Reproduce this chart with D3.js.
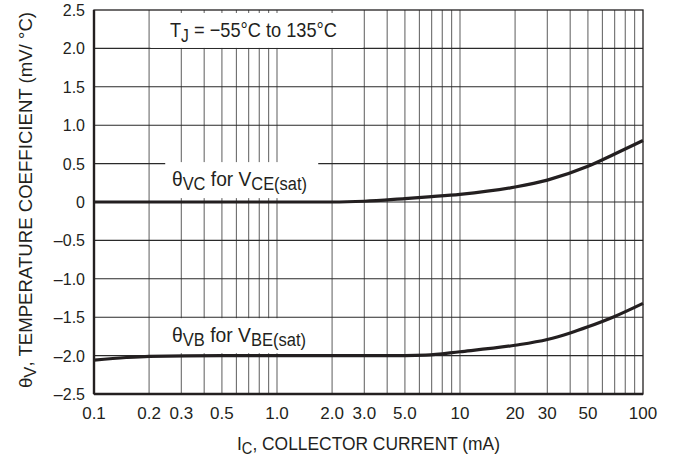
<!DOCTYPE html>
<html>
<head>
<meta charset="utf-8">
<script src="https://d3js.org/d3.v7.min.js"></script>
<style>
  body { margin: 0; background: #fff; }
  text { font-family: "Liberation Sans", Arial, sans-serif; fill: #231f20; }
</style>
</head>
<body>
<svg id="chart" width="673" height="463"></svg>
<script>
// collector current (mA) and temperature coefficients (mV/°C)
const icVC = [0.1, 0.2, 0.5, 1, 2, 3, 5, 7, 10, 20, 30, 50, 70, 100];
const thetaVC = [0.0, 0.0, 0.0, 0.0, 0.0, 0.01, 0.045, 0.07, 0.1, 0.195, 0.285, 0.465, 0.625, 0.8];
const icVB = [0.1, 0.15, 0.2, 0.5, 1, 2, 5, 6.5, 10, 20, 30, 40, 50, 70, 100];
const thetaVB = [-2.06, -2.025, -2.01, -2.0, -2.0, -2.0, -2.0, -1.995, -1.95, -1.865, -1.79, -1.705, -1.625, -1.49, -1.32];

const xTickValues = [0.1, 0.2, 0.3, 0.5, 1, 2, 3, 5, 10, 20, 30, 50, 100];
const xTickLabels = ["0.1", "0.2", "0.3", "0.5", "1.0", "2.0", "3.0", "5.0", "10", "20", "30", "50", "100"];
const yTickValues = [-2.5, -2, -1.5, -1, -0.5, 0, 0.5, 1, 1.5, 2, 2.5];
const yTickLabels = ["\u20132.5", "\u20132.0", "\u20131.5", "\u20131.0", "\u20130.5", "0", "0.5", "1.0", "1.5", "2.0", "2.5"];

const svg = d3.select("#chart");
const margin = {top: 10, right: 30, bottom: 69, left: 94};
const W = +svg.attr("width"), H = +svg.attr("height");
const w = W - margin.left - margin.right, h = H - margin.top - margin.bottom;
const g = svg.append("g").attr("transform", `translate(${margin.left},${margin.top})`);

const x = d3.scaleLog().domain([0.1, 100]).range([0, w]);
const y = d3.scaleLinear().domain([-2.5, 2.5]).range([h, 0]);

// vertical grid: every 1..9 in each decade
let vgrid = [];
for (let d = 0.1; d < 100; d *= 10) for (let k = 1; k <= 9; k++) vgrid.push(+(d * k).toPrecision(3));
vgrid = vgrid.filter(v => v > 0.1 && v < 100);
g.append("g").selectAll("line").data(vgrid).join("line")
  .attr("x1", d => x(d)).attr("x2", d => x(d))
  .attr("y1", 0).attr("y2", h)
  .attr("stroke", "#6b6b6b").attr("stroke-width", 1.1);

g.append("g").selectAll("line").data(yTickValues.slice(1, -1)).join("line")
  .attr("x1", 0).attr("x2", w)
  .attr("y1", d => y(d)).attr("y2", d => y(d))
  .attr("stroke", "#2a2a2a").attr("stroke-width", 1.1);

// white boxes behind annotations
g.append("rect").attr("x", x(0.2) + 1.5).attr("y", 3).attr("width", x(3) - x(0.2) - 3).attr("height", y(2) - 3.5).attr("fill", "#fff");
g.append("rect").attr("x", x(0.245)).attr("y", y(0.5) - 1.5).attr("width", x(1.68) - x(0.245)).attr("height", 36).attr("fill", "#fff");
g.append("rect").attr("x", x(0.245)).attr("y", y(-1.5) + 1).attr("width", x(1.68) - x(0.245)).attr("height", 35).attr("fill", "#fff");

// frame
g.append("rect").attr("x", 0).attr("y", 0).attr("width", w).attr("height", h)
  .attr("fill", "none").attr("stroke", "#231f20").attr("stroke-width", 1.3);
g.append("line").attr("x1", 0).attr("x2", 0).attr("y1", 0).attr("y2", h).attr("stroke", "#231f20").attr("stroke-width", 2.4);
g.append("line").attr("x1", 0).attr("x2", w).attr("y1", h).attr("y2", h).attr("stroke", "#231f20").attr("stroke-width", 2.4);

// curves
const line = d3.line().x(d => x(d[0])).y(d => y(d[1])).curve(d3.curveMonotoneX);
g.append("path").datum(d3.zip(icVC, thetaVC)).attr("d", line)
  .attr("fill", "none").attr("stroke", "#231f20").attr("stroke-width", 3.2);
g.append("path").datum(d3.zip(icVB, thetaVB)).attr("d", line)
  .attr("fill", "none").attr("stroke", "#231f20").attr("stroke-width", 3.2);

// tick labels
g.append("g").selectAll("text").data(xTickValues).join("text")
  .attr("x", d => x(d)).attr("y", h + 25)
  .attr("text-anchor", "middle").attr("font-size", 17)
  .text((d, i) => xTickLabels[i]);
g.append("g").selectAll("text").data(yTickValues).join("text")
  .attr("x", -9).attr("y", d => y(d) + 6)
  .attr("text-anchor", "end").attr("font-size", 16)
  .text((d, i) => yTickLabels[i]);

// text with subscripts: parts are [string, isSub]
function subText(sel, parts, subSize, shift) {
  let low = false;
  parts.forEach(p => {
    const t = sel.append("tspan").text(p[0]);
    if (p[1]) t.attr("font-size", subSize);
    if (p[1] !== low) t.attr("dy", p[1] ? shift : -shift);
    low = p[1];
  });
}
const tj = g.append("text").attr("x", 76).attr("y", 27).attr("font-size", 21)
  .attr("textLength", 167).attr("lengthAdjust", "spacingAndGlyphs");
subText(tj, [["T", false], ["J", true], [" = \u221255\u00b0C to 135\u00b0C", false]], 18, 5);

const vc = g.append("text").attr("x", 78).attr("y", 176).attr("font-size", 21)
  .attr("textLength", 135).attr("lengthAdjust", "spacingAndGlyphs");
subText(vc, [["\u03b8", false], ["VC", true], [" for V", false], ["CE(sat)", true]], 18, 4);

const vb = g.append("text").attr("x", 78).attr("y", 332).attr("font-size", 21)
  .attr("textLength", 134).attr("lengthAdjust", "spacingAndGlyphs");
subText(vb, [["\u03b8", false], ["VB", true], [" for V", false], ["BE(sat)", true]], 18, 4);

// axis titles
const xt = svg.append("text").attr("x", 237).attr("y", 450).attr("font-size", 19)
  .attr("textLength", 263).attr("lengthAdjust", "spacingAndGlyphs");
subText(xt, [["I", false], ["C", true], [", COLLECTOR CURRENT (mA)", false]], 16, 4);

const yt = svg.append("text").attr("transform", `translate(32,200) rotate(-90)`)
  .attr("text-anchor", "middle").attr("font-size", 18)
  .attr("textLength", 376).attr("lengthAdjust", "spacingAndGlyphs");
subText(yt, [["\u03b8", false], ["V", true], [", TEMPERATURE COEFFICIENT (mV/ \u00b0C)", false]], 16, 4);
</script>
</body>
</html>
